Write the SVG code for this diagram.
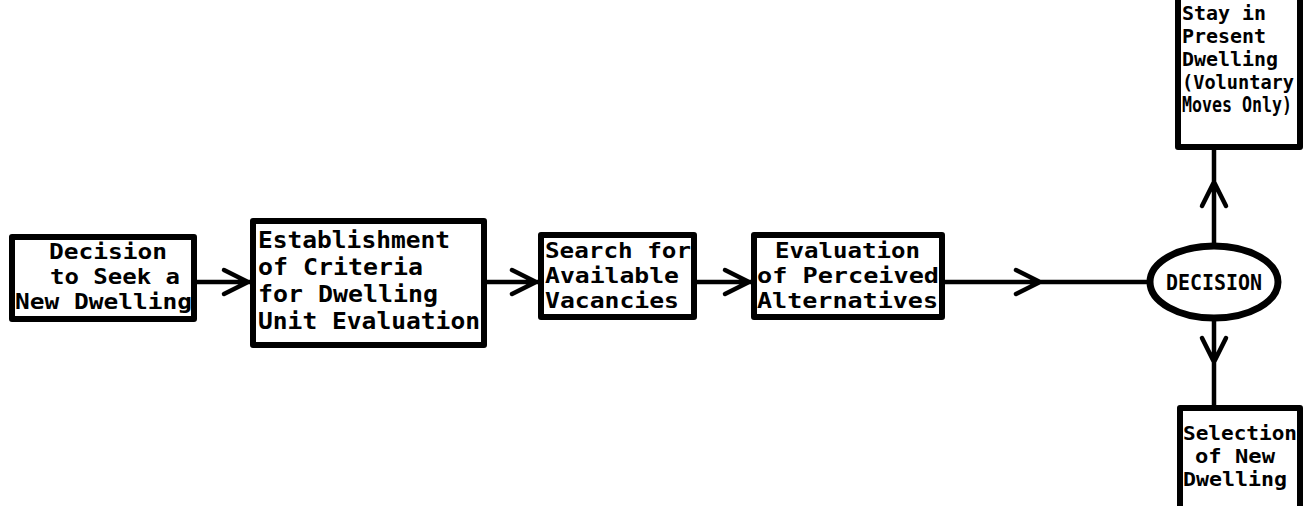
<svg xmlns="http://www.w3.org/2000/svg" width="1308" height="506" viewBox="0 0 1308 506">
<style>
.box{fill:#fff;stroke:#000;stroke-width:6;stroke-linejoin:round}
.t{font-family:"DejaVu Sans Mono","Liberation Mono",monospace;font-weight:bold;font-size:21.5px;fill:#000}
.b{font-size:23px}
.s{font-size:19.5px}
.m{font-size:22px}
.ln{fill:none;stroke:#000;stroke-width:4.5;stroke-linecap:round;stroke-linejoin:round}
</style>
<rect width="1308" height="506" fill="#fff"/>
<g id="connectors">
<path class="ln" d="M197 282H250M224 270L248 282L224 294"/>
<path class="ln" d="M487 282H538M512 270L536 282L512 294"/>
<path class="ln" d="M697 282H751M725 270L749 282L725 294"/>
<path class="ln" d="M945 282H1150M1016 270L1040 282L1016 294"/>
<path class="ln" d="M1214 246V150M1202 206L1214 182L1226 206"/>
<path class="ln" d="M1214 318V405M1202 338L1214 362L1226 338"/>
</g>
<g id="n1">
<rect class="box" x="12" y="237" width="182" height="82"/>
<text class="t" x="49" y="259" textLength="118" lengthAdjust="spacingAndGlyphs">Decision</text>
<text class="t" x="50" y="284" textLength="130" lengthAdjust="spacingAndGlyphs">to Seek a</text>
<text class="t" x="15" y="309" textLength="177" lengthAdjust="spacingAndGlyphs">New Dwelling</text>
</g>
<g id="n2">
<rect class="box" x="253" y="221" width="231" height="124"/>
<text class="t b" x="258" y="248" textLength="192" lengthAdjust="spacingAndGlyphs">Establishment</text>
<text class="t b" x="258" y="275" textLength="165" lengthAdjust="spacingAndGlyphs">of Criteria</text>
<text class="t b" x="258" y="302" textLength="180" lengthAdjust="spacingAndGlyphs">for Dwelling</text>
<text class="t b" x="258" y="329" textLength="222" lengthAdjust="spacingAndGlyphs">Unit Evaluation</text>
</g>
<g id="n3">
<rect class="box" x="541" y="235" width="153" height="82"/>
<text class="t" x="545" y="258" textLength="146" lengthAdjust="spacingAndGlyphs">Search for</text>
<text class="t" x="545" y="283" textLength="134" lengthAdjust="spacingAndGlyphs">Available</text>
<text class="t" x="545" y="308" textLength="134" lengthAdjust="spacingAndGlyphs">Vacancies</text>
</g>
<g id="n4">
<rect class="box" x="754" y="235" width="188" height="82"/>
<text class="t" x="775" y="258" textLength="145" lengthAdjust="spacingAndGlyphs">Evaluation</text>
<text class="t" x="757" y="283" textLength="182" lengthAdjust="spacingAndGlyphs">of Perceived</text>
<text class="t" x="757" y="308" textLength="181" lengthAdjust="spacingAndGlyphs">Alternatives</text>
</g>
<g id="decision">
<ellipse cx="1214" cy="282" rx="64" ry="36" fill="#fff" stroke="#000" stroke-width="7"/>
<text class="t m" x="1166" y="290" textLength="96" lengthAdjust="spacingAndGlyphs">DECISION</text>
</g>
<g id="stay">
<rect class="box" x="1178" y="-4" width="122" height="151"/>
<text class="t s" x="1182" y="20" textLength="84" lengthAdjust="spacingAndGlyphs">Stay in</text>
<text class="t s" x="1182" y="43" textLength="84" lengthAdjust="spacingAndGlyphs">Present</text>
<text class="t s" x="1182" y="66" textLength="96" lengthAdjust="spacingAndGlyphs">Dwelling</text>
<text class="t s" x="1182" y="89" textLength="112" lengthAdjust="spacingAndGlyphs">(Voluntary</text>
<text class="t" x="1182" y="112" font-size="17" textLength="110" lengthAdjust="spacingAndGlyphs">Moves Only)</text>
</g>
<g id="select">
<rect class="box" x="1180" y="408" width="120" height="104"/>
<text class="t s" x="1183" y="440" textLength="114" lengthAdjust="spacingAndGlyphs">Selection</text>
<text class="t s" x="1195" y="463" textLength="80" lengthAdjust="spacingAndGlyphs">of New</text>
<text class="t s" x="1183" y="486" textLength="104" lengthAdjust="spacingAndGlyphs">Dwelling</text>
</g>
</svg>
